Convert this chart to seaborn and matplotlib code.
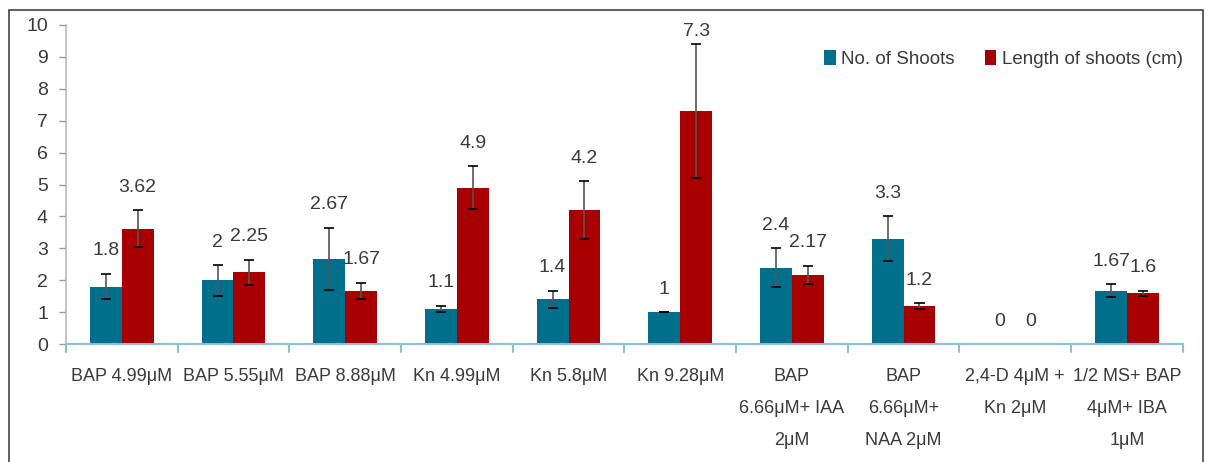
import matplotlib
matplotlib.use("Agg")
import matplotlib.pyplot as plt
import numpy as np
import pandas as pd
import seaborn as sns
from matplotlib.patches import Rectangle

treatments = [
    "BAP 4.99μM", "BAP 5.55μM", "BAP 8.88μM", "Kn 4.99μM", "Kn 5.8μM",
    "Kn 9.28μM", "BAP\n6.66μM+ IAA\n2μM", "BAP\n6.66μM+\nNAA 2μM",
    "2,4-D 4μM +\nKn 2μM", "1/2 MS+ BAP\n4μM+ IBA\n1μM",
]
series = ["No. of Shoots", "Length of shoots (cm)"]
shoots = [1.8, 2, 2.67, 1.1, 1.4, 1, 2.4, 3.3, 0, 1.67]
length = [3.62, 2.25, 1.67, 4.9, 4.2, 7.3, 2.17, 1.2, 0, 1.6]
shoots_err = [0.4, 0.48, 0.98, 0.1, 0.28, 0.0, 0.6, 0.7, 0, 0.2]
length_err = [0.57, 0.4, 0.25, 0.67, 0.9, 2.1, 0.28, 0.09, 0, 0.08]
labels_shoots = ["1.8", "2", "2.67", "1.1", "1.4", "1", "2.4", "3.3", "0", "1.67"]
labels_length = ["3.62", "2.25", "1.67", "4.9", "4.2", "7.3", "2.17", "1.2", "0", "1.6"]
colors = ["#006F8C", "#A80000"]

sns.set_theme(style="white")
plt.rcParams["font.family"] = ["Liberation Sans", "DejaVu Sans"]

df = pd.DataFrame({
    "Treatment": treatments * 2,
    "Series": [series[0]] * len(treatments) + [series[1]] * len(treatments),
    "Value": shoots + length,
})

fig = plt.figure(figsize=(12.1, 4.62), dpi=100)
ax = fig.add_axes([0.0545, 0.255, 0.923, 0.691])
sns.barplot(data=df, x="Treatment", y="Value", hue="Series", palette=colors,
            width=0.57, gap=0, saturation=1, errorbar=None, linewidth=0, ax=ax)

errs = [shoots_err, length_err]
labs = [labels_shoots, labels_length]
vals = [shoots, length]
for k, cont in enumerate(ax.containers):
    for i, bar in enumerate(cont):
        xc = bar.get_x() + bar.get_width() / 2
        v, e = vals[k][i], errs[k][i]
        if v > 0:
            ax.vlines(xc, v - e, v + e, color="#555555", lw=1.2, zorder=3)
            ax.hlines([v - e, v + e], xc - 0.045, xc + 0.045, color="black", lw=1.2, zorder=3)
        ax.text(xc, min(v + e + 0.72, 9.8), labs[k][i], ha="center", va="center",
                fontsize=14, color="#3a3a3a")

ax.set_ylim(0, 10)
ax.set_xlim(-0.5, len(treatments) - 0.5)
ax.set_yticks(range(0, 11))
ax.set_xticks(np.arange(len(treatments)))
ax.set_xticklabels(treatments, fontsize=13, color="#3a3a3a", linespacing=2.15)
ax.tick_params(axis="y", labelsize=14, labelcolor="#3a3a3a", length=5, color="#999999",
               left=True, width=1, pad=8)
ax.tick_params(axis="x", length=0, pad=17)
for xb in np.arange(-0.5, len(treatments), 1.0):
    ax.plot([xb, xb], [0, -0.25], color="#8BBFD3", lw=1.5, clip_on=False)
ax.set_xlabel("")
ax.set_ylabel("")
for s in ["top", "right"]:
    ax.spines[s].set_visible(False)
ax.spines["left"].set_color("#BBBBBB")
ax.spines["bottom"].set_color("#8BBFD3")
ax.spines["bottom"].set_linewidth(1.5)

ax.legend(loc="upper right", bbox_to_anchor=(1.015, 0.975), ncol=2, frameon=False,
          fontsize=13.5, handlelength=0.6, handleheight=0.9, handletextpad=0.3,
          columnspacing=1.6, labelcolor="#3a3a3a")

fig.patches.append(Rectangle((0.0075, -0.05), 0.987, 1.028, transform=fig.transFigure,
                             fill=False, edgecolor="#444444", lw=1.2))
fig.savefig("out.png", dpi=100)
